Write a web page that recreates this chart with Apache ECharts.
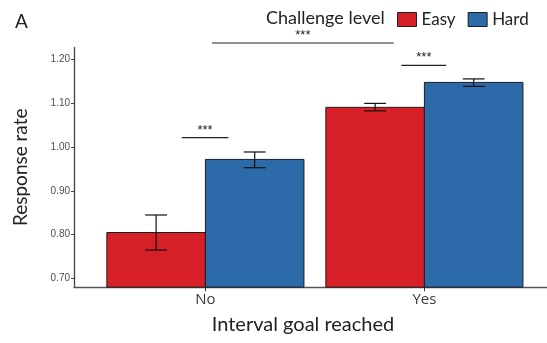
<!DOCTYPE html>
<html>
<head>
<meta charset="utf-8">
<script src="https://cdn.jsdelivr.net/npm/echarts@6/dist/echarts.min.js"></script>
<style>
  html, body { margin: 0; padding: 0; background: #fff; }
  #chart { width: 547px; height: 343px; }
</style>
</head>
<body>
<div id="chart"></div>
<script>
// Response rate by whether the interval goal was reached, split by challenge level
const categories = ['No', 'Yes'];
const seriesNames = ['Easy', 'Hard'];
const easyMean = [0.805, 1.091];
const easyLow  = [0.765, 1.083];
const easyHigh = [0.845, 1.100];
const hardMean = [0.972, 1.148];
const hardLow  = [0.953, 1.139];
const hardHigh = [0.989, 1.156];
const yTicks = [0.70, 0.80, 0.90, 1.00, 1.10, 1.20];

// significance brackets (x in category units, y in response-rate units)
const sigFrom  = [0.892, 1.03, 1.895];
const sigTo    = [1.105, 1.86, 2.10];
const sigLevel = [1.022, 1.238, 1.187];
const sigText  = ['***', '***', '***'];

const Y_MIN = 0.68, Y_MAX = 1.228;
const DODGE = 0.225;   // half of the dodge width
const CAP = 0.05;      // error-bar cap half width

const RED = '#d71f27';
const BLUE = '#2c6aa9';
const EDGE = '#1e1e1e';
const TEXT = '#222';
const TICK_TEXT = '#4d4d4d';

const chart = echarts.init(document.getElementById('chart'), null, { renderer: 'canvas' });

function barRenderer(offset) {
  return function (params, api) {
    const x = api.value(0) + offset;
    const top = api.coord([x - DODGE, api.value(1)]);
    const bottom = api.coord([x + DODGE, Y_MIN]);
    return {
      type: 'rect',
      shape: { x: top[0], y: top[1], width: bottom[0] - top[0], height: bottom[1] - top[1] },
      style: api.style({ stroke: EDGE, lineWidth: 1 })
    };
  };
}

function errRenderer(offset) {
  return function (params, api) {
    const x = api.value(0) + offset;
    const lo = api.coord([x, api.value(1)]);
    const hi = api.coord([x, api.value(2)]);
    const capL = api.coord([x - CAP, api.value(1)])[0];
    const capR = api.coord([x + CAP, api.value(1)])[0];
    const ls = { stroke: '#111', lineWidth: 1.2 };
    return {
      type: 'group',
      children: [
        { type: 'line', shape: { x1: lo[0], y1: lo[1], x2: hi[0], y2: hi[1] }, style: ls },
        { type: 'line', shape: { x1: capL, y1: lo[1], x2: capR, y2: lo[1] }, style: ls },
        { type: 'line', shape: { x1: capL, y1: hi[1], x2: capR, y2: hi[1] }, style: ls }
      ]
    };
  };
}

function sigRenderer(params, api) {
  const a = api.coord([api.value(0), api.value(2)]);
  const b = api.coord([api.value(1), api.value(2)]);
  const label = sigText[params.dataIndex];
  return {
    type: 'group',
    children: [
      { type: 'line', shape: { x1: a[0], y1: a[1], x2: b[0], y2: b[1] }, style: { stroke: '#222', lineWidth: 1.2 } },
      { type: 'text', x: (a[0] + b[0]) / 2, y: a[1] - 1,
        style: { text: label, align: 'center', verticalAlign: 'bottom',
                 fontFamily: 'Liberation Sans', fontSize: 13, fill: '#222' } }
    ]
  };
}

const easyBars = categories.map((c, i) => [i + 1, easyMean[i]]);
const hardBars = categories.map((c, i) => [i + 1, hardMean[i]]);
const easyErr = categories.map((c, i) => [i + 1, easyLow[i], easyHigh[i]]);
const hardErr = categories.map((c, i) => [i + 1, hardLow[i], hardHigh[i]]);
const sigData = sigFrom.map((f, i) => [f, sigTo[i], sigLevel[i]]);
const catValues = categories.map((c, i) => i + 1);

chart.setOption({
  animation: false,
  backgroundColor: '#fff',
  title: [
    { text: 'A', left: 15, top: 12, padding: 0,
      textStyle: { fontFamily: 'Lato', fontSize: 19, fontWeight: 'normal', color: TEXT } },
    { text: 'Challenge level', left: 266, top: 9, padding: 0,
      textStyle: { fontFamily: 'Lato', fontSize: 18, fontWeight: 'normal', color: TEXT } }
  ],
  legend: {
    left: 397, top: 11, padding: 0,
    itemWidth: 19, itemHeight: 14, itemGap: 12,
    icon: 'rect',
    textStyle: { fontFamily: 'Lato', fontSize: 17, color: TEXT },
    data: [
      { name: seriesNames[0], itemStyle: { color: RED, borderColor: EDGE, borderWidth: 1 } },
      { name: seriesNames[1], itemStyle: { color: BLUE, borderColor: EDGE, borderWidth: 1 } }
    ]
  },
  grid: { left: 74, top: 47.4, width: 481.8, height: 239.8, containLabel: false, outerBoundsMode: 'none' },
  xAxis: {
    type: 'value', min: 0.4, max: 2.6,
    splitLine: { show: false },
    axisLine: { show: true, lineStyle: { color: '#555', width: 1.3 } },
    axisTick: { show: true, customValues: catValues, length: 4, lineStyle: { color: '#333', width: 1 } },
    axisLabel: {
      customValues: catValues,
      formatter: v => categories[Math.round(v) - 1] || '',
      fontFamily: 'Open Sans', fontSize: 15, color: '#3a3a3a', margin: 5
    }
  },
  yAxis: {
    type: 'value', min: Y_MIN, max: Y_MAX,
    name: 'Response rate', nameLocation: 'middle', nameGap: 44, nameRotate: 90,
    nameTextStyle: { fontFamily: 'Lato', fontSize: 19, color: TEXT },
    splitLine: { show: false },
    axisLine: { show: true, lineStyle: { color: '#444', width: 1.3 } },
    axisTick: { show: true, customValues: yTicks, length: 3, lineStyle: { color: '#444', width: 1 } },
    axisLabel: {
      customValues: yTicks,
      formatter: v => v.toFixed(2),
      fontFamily: 'Liberation Sans', fontSize: 10, color: TICK_TEXT, margin: 4
    }
  },
  graphic: [
    { type: 'text', x: 303, y: 315,
      style: { text: 'Interval goal reached', align: 'center', fontFamily: 'Lato', fontSize: 20, fill: TEXT } }
  ],
  series: [
    { name: seriesNames[0], type: 'custom', renderItem: barRenderer(-DODGE), data: easyBars,
      itemStyle: { color: RED }, encode: { x: 0, y: 1 } },
    { name: seriesNames[1], type: 'custom', renderItem: barRenderer(DODGE), data: hardBars,
      itemStyle: { color: BLUE }, encode: { x: 0, y: 1 } },
    { name: 'easyErr', type: 'custom', renderItem: errRenderer(-DODGE), data: easyErr,
      encode: { x: 0, y: [1, 2] }, z: 3 },
    { name: 'hardErr', type: 'custom', renderItem: errRenderer(DODGE), data: hardErr,
      encode: { x: 0, y: [1, 2] }, z: 3 },
    { name: 'sig', type: 'custom', renderItem: sigRenderer, data: sigData, clip: false,
      encode: { x: [0, 1], y: 2 }, z: 4 }
  ]
});
</script>
</body>
</html>
